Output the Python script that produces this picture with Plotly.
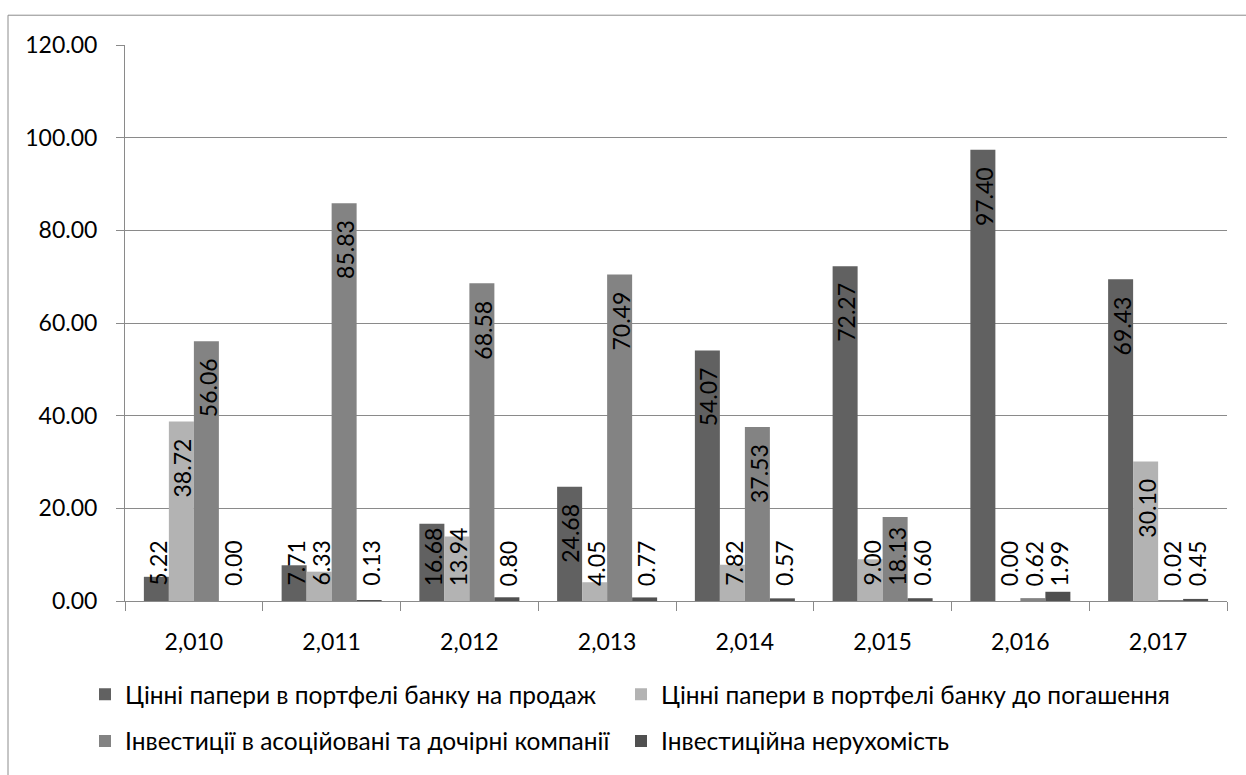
import plotly.graph_objects as go

# Years and the four investment portfolio components (%)
years = [2010, 2011, 2012, 2013, 2014, 2015, 2016, 2017]
series_names = [
    "Цінні папери в портфелі банку на продаж",
    "Цінні папери в портфелі банку до погашення",
    "Інвестиції в асоційовані та дочірні компанії",
    "Інвестиційна нерухомість",
]
for_sale = [5.22, 7.71, 16.68, 24.68, 54.07, 72.27, 97.40, 69.43]
held_to_maturity = [38.72, 6.33, 13.94, 4.05, 7.82, 9.00, 0.00, 30.10]
associates = [56.06, 85.83, 68.58, 70.49, 37.53, 18.13, 0.62, 0.02]
property_inv = [0.00, 0.13, 0.80, 0.77, 0.57, 0.60, 1.99, 0.45]

series_values = [for_sale, held_to_maturity, associates, property_inv]
colors = ["#616161", "#b3b3b3", "#838383", "#505050"]

FONT = "Lato, 'Open Sans', sans-serif"
FS = 23
LEGEND_FS = 24.5
GRID = "#8a8a8a"

# plot-area geometry (px)
W, H = 1246, 775
ML, MR, MT, MB = 125, 19, 45, 170
PLOT_W = W - ML - MR
PLOT_H = H - MT - MB
Y_MAX = 120
BARGAP = 0.274
px_per_unit = PLOT_H / Y_MAX

categories = [f"{y:,}" for y in years]

# one legend box per entry, laid out as a 2x2 grid under the axis (px anchors)
legend_ids = ["legend", "legend2", "legend3", "legend4"]
legend_pos = [(85, 699), (621, 699), (85, 746), (621, 746)]

fig = go.Figure()
for name, vals, col, lg in zip(series_names, series_values, colors, legend_ids):
    fig.add_trace(go.Bar(
        x=categories, y=vals, name=name, marker_color=col,
        marker_line_width=0, legend=lg,
    ))

# rotated value labels: inside the top end of tall bars, from the base for short ones
n = len(series_values)
bar_w = (1 - BARGAP) / n
annotations = []
for i, vals in enumerate(series_values):
    offset = (i - (n - 1) / 2) * bar_w
    for k, v in enumerate(vals):
        txt = f"{v:.2f}"
        label_len = FS * (0.58 * (len(txt) - 1) + 0.27)
        fits = v * px_per_unit - 32 >= label_len
        annotations.append(dict(
            x=k + offset, y=v if fits else 0, xref="x", yref="y",
            text=txt, showarrow=False, textangle=-90,
            yanchor="top" if fits else "bottom",
            yshift=-15 if fits else 13, xshift=1,
            font=dict(family=FONT, size=FS, color="#000000"),
        ))

# chart-area frame (left and top edges)
fx0 = (8 - ML) / PLOT_W
fy0 = (H - MB - 15) / PLOT_H
shapes = [
    dict(type="line", xref="paper", yref="paper", x0=fx0, x1=fx0, y0=fy0, y1=-0.5,
         line=dict(color="#8c8c8c", width=1)),
    dict(type="line", xref="paper", yref="paper", x0=fx0, x1=1.2, y0=fy0, y1=fy0,
         line=dict(color="#8c8c8c", width=1)),
]

legends = {}
for lg, (px, py) in zip(legend_ids, legend_pos):
    legends[lg] = dict(
        orientation="h", xanchor="left", yanchor="middle",
        x=(px - ML) / PLOT_W, y=(H - MB - py) / PLOT_H,
        font=dict(family=FONT, size=LEGEND_FS, color="#000000"),
        itemwidth=30, bgcolor="rgba(0,0,0,0)",
    )

fig.update_layout(
    width=W, height=H,
    margin=dict(l=ML, r=MR, t=MT, b=MB),
    paper_bgcolor="white", plot_bgcolor="white",
    barmode="group", bargap=BARGAP, bargroupgap=0,
    font=dict(family=FONT, size=FS, color="#000000"),
    xaxis=dict(
        type="category", tickson="boundaries", ticks="outside", ticklen=9,
        tickcolor=GRID, showline=True, linecolor=GRID, linewidth=1,
        showgrid=False, tickfont=dict(family=FONT, size=FS),
        ticklabelstandoff=20,
    ),
    yaxis=dict(
        range=[0, Y_MAX], dtick=20, tickformat=".2f", ticks="outside", ticklen=8,
        tickcolor=GRID, showline=True, linecolor=GRID, linewidth=1,
        showgrid=True, gridcolor=GRID, gridwidth=1, zeroline=False,
        tickfont=dict(family=FONT, size=FS), ticklabelstandoff=14,
    ),
    annotations=annotations,
    shapes=shapes,
    showlegend=True,
    **legends,
)

fig.write_html("out.html")
